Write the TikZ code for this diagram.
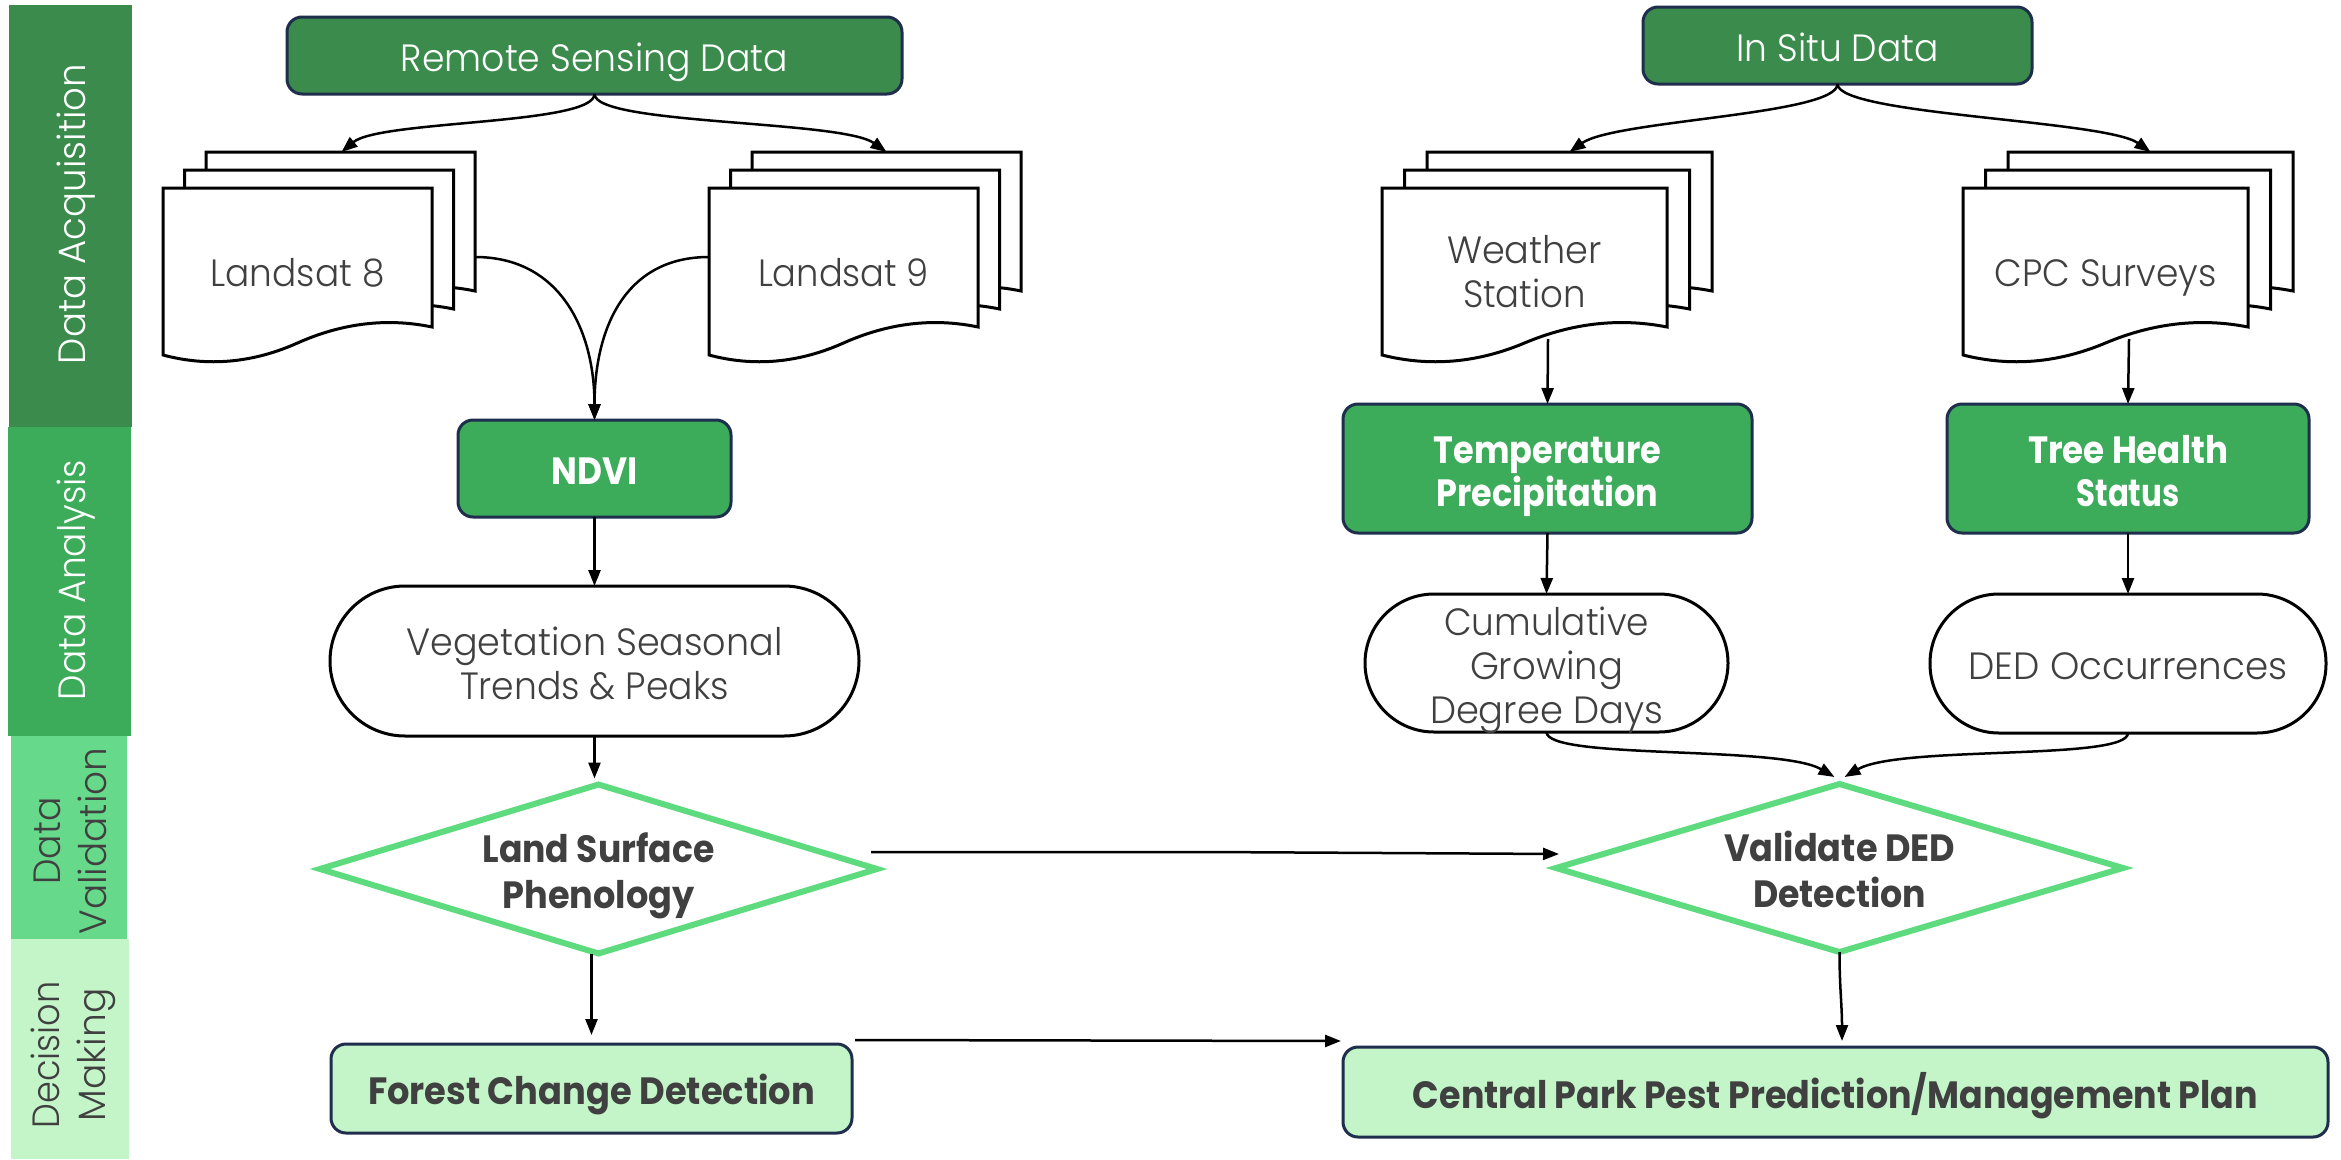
\documentclass[tikz,border=0pt]{standalone}
\usepackage{fontspec}
\setmainfont{Poppins}[UprightFont={* Light}, BoldFont={* Bold}]
\usetikzlibrary{shapes.geometric,arrows.meta,calc}
\definecolor{dkgreen}{HTML}{3B8C4C}
\definecolor{mdgreen}{HTML}{3CAB5A}
\definecolor{ltgreen}{HTML}{66D98A}
\definecolor{vlgreen}{HTML}{C3F5C8}
\definecolor{navy}{HTML}{1F2E4D}
\definecolor{txt}{HTML}{404040}
\definecolor{dstroke}{HTML}{5EDB7E}
% band text: scaled to a width
\newcommand\tw[2]{\resizebox{#1pt}{\height}{#2}}
% node text: scaled to a width, with fixed line height so caps are centred
\newcommand\tx[2]{\rule{0pt}{32pt}\smash{\resizebox{#1pt}{\height}{#2}}}
\newcommand\docpath[3]{%
  \filldraw[docline] (#1,#2) -- ({#1+#3},#2) -- ({#1+#3},{#2+139})
   .. controls ({#1+0.8333*#3},{#2+129.67}) and ({#1+0.6667*#3},{#2+135}) .. ({#1+0.5*#3},{#2+155})
   .. controls ({#1+0.3333*#3},{#2+175}) and ({#1+0.1667*#3},{#2+179}) .. (#1,{#2+167}) -- cycle;}
\newcommand\docstack[4]{%
  \docpath{#1+2*#4}{#2-36}{#3}
  \docpath{#1+#4}{#2-18}{#3}
  \docpath{#1}{#2}{#3}}
\begin{document}
\begin{tikzpicture}[x=1pt,y=-1pt,
  every node/.style={inner sep=0pt, outer sep=0pt, font=\fontsize{38}{44}\selectfont},
  rbox/.style={rectangle, rounded corners=15pt, draw=navy, line width=3pt},
  docline/.style={draw=black, fill=white, line width=3pt},
  doctxt/.style={text=txt, align=center},
  stad/.style={rectangle, draw=black, line width=3pt, fill=white, text=txt, align=center},
  diam/.style={diamond, aspect=3.3, draw=dstroke, line width=6pt, fill=white, text=txt, align=center,
     font=\fontsize{38}{46}\selectfont\bfseries},
  arr/.style={line width=2.5pt, -{Triangle[length=16pt,width=12pt]}},
  band/.style={rotate=90}
]
\useasboundingbox (0,0) rectangle (2341,1159);
\fill[white] (0,0) rectangle (2341,1159);

% lane bands
\fill[dkgreen] (9,5) rectangle (132,427);
\fill[mdgreen] (8,427) rectangle (131,736);
\fill[ltgreen] (11,736) rectangle (127,939);
\fill[vlgreen] (11,939) rectangle (129,1159);
\node[band, anchor=base, text=white] (bacq) at (85,214) {\tw{300}{Data Acquisition}};
\node[band, anchor=base, text=white] (bana) at (85,580) {\tw{240}{Data Analysis}};
\node[band, align=center, text=txt, font=\fontsize{38}{46}\selectfont] (bval) at (70.5,841) {\tw{87}{Data}\\\tw{187}{Validation}};
\node[band, align=center, text=txt, font=\fontsize{38}{46}\selectfont] (bdec) at (73,1055) {\tw{147}{Decision}\\\tw{133}{Making}};

% top sources
\node[rbox, fill=dkgreen, text=white, minimum width=615, minimum height=77] (rs) at (594.5,55.5) {\tx{387}{Remote Sensing Data}};
\node[rbox, fill=dkgreen, text=white, minimum width=389, minimum height=77] (is) at (1837.5,45.5) {\tx{202}{In Situ Data}};

% document stacks
\docstack{163}{188}{269}{21.5}
\docstack{709}{188}{269}{21.5}
\docstack{1382}{188}{285}{22.5}
\docstack{1963}{188}{285}{22.5}
\node[doctxt] (l8) at (297.5,270) {\tx{174}{Landsat 8}};
\node[doctxt] (l9) at (843.5,270) {\tx{171}{Landsat 9}};
\node[doctxt] (ws) at (1524.5,269) {\tx{155}{Weather}\\\tx{123}{Station}};
\node[doctxt] (cpc) at (2105.5,270) {\tx{222}{CPC Surveys}};
\coordinate (l8top) at (341.5,152);
\coordinate (l8right) at (475,257);
\coordinate (l9top) at (886.5,152);
\coordinate (l9left) at (709,257);
\coordinate (wstop) at (1569.5,152);
\coordinate (wsbot) at (1548,339);
\coordinate (cpctop) at (2150.5,152);
\coordinate (cpcbot) at (2129,339);

% analysis boxes
\node[rbox, fill=mdgreen, text=white, font=\fontsize{38}{44}\selectfont\bfseries, minimum width=273, minimum height=97] (ndvi) at (594.5,468.5) {\tx{86}{NDVI}};
\node[rbox, fill=mdgreen, text=white, align=center, font=\fontsize{38}{43}\selectfont\bfseries, minimum width=409, minimum height=129] (temp) at (1547.5,468.5) {\tx{228}{Temperature}\\\tx{222}{Precipitation}};
\node[rbox, fill=mdgreen, text=white, align=center, font=\fontsize{38}{43}\selectfont\bfseries, minimum width=362, minimum height=129] (tree) at (2128,468.5) {\tx{200}{Tree Health}\\\tx{103}{Status}};

\node[stad, rounded corners=75pt, minimum width=529, minimum height=150] (veg) at (594.5,661) {\tx{376}{Vegetation Seasonal}\\\tx{269}{Trends \& Peaks}};
\node[stad, rounded corners=69pt, minimum width=363, minimum height=138] (cgdd) at (1546.5,663) {\tx{205}{Cumulative}\\\tx{153}{Growing}\\\tx{233}{Degree Days}};
\node[stad, rounded corners=69pt, minimum width=396, minimum height=139] (ded) at (2128,663.5) {\tx{319}{DED Occurrences}};

% validation
\node[diam, minimum width=557, minimum height=169] (lsp) at (598.5,869) {\tx{232}{Land Surface}\\\tx{192}{Phenology}};
\node[diam, minimum width=567, minimum height=168] (val) at (1839.5,868) {\tx{231}{Validate DED}\\\tx{173}{Detection}};

% decisions
\node[rbox, fill=vlgreen, text=txt, font=\fontsize{38}{44}\selectfont\bfseries, minimum width=521, minimum height=89] (forest) at (591.5,1088.5) {\tx{447}{Forest Change Detection}};
\node[rbox, fill=vlgreen, text=txt, font=\fontsize{38}{44}\selectfont\bfseries, minimum width=985, minimum height=90] (cppm) at (1835.5,1092) {\tx{845}{Central Park Pest Prediction/Management Plan}};

% connectors
\draw[arr] (rs.south) .. controls +(0,31) and +(38.5,-32) .. (l8top);
\draw[arr] (rs.south) .. controls +(0,31) and +(-45,-32) .. (l9top);
\draw[arr] (is.south) .. controls +(0,31) and +(45,-32) .. (wstop);
\draw[arr] (is.south) .. controls +(0,31) and +(-45,-32) .. (cpctop);
\draw[arr] (l8right) .. controls +(85,0) and +(0,-90) .. (ndvi.north);
\draw[arr] (l9left) .. controls +(-85,0) and +(0,-90) .. (ndvi.north);
\draw[arr] (wsbot) -- (temp.north);
\draw[arr] (cpcbot) -- (tree.north);
\draw[arr] (ndvi.south) -- (veg.north);
\draw[arr] (temp.south) -- (cgdd.north);
\draw[arr] (tree.south) -- (ded.north);
\draw[arr] (veg.south) -- ($(lsp.north)+(-4,-6)$);
\draw[arr] (cgdd.south) .. controls +(0,28) and +(-55,-32) .. ($(val.north)+(-5,-7)$);
\draw[arr] (ded.south) .. controls +(0,28) and +(55,-32) .. ($(val.north)+(5,-7)$);
\draw[arr] ($(lsp.east)+(-6,-17)$) -- (1209,852) -- ($(val.west)+(3,-14)$);
\draw[arr] (lsp.south -| forest.north) -- ($(forest.north)+(0,-9)$);
\draw[arr] (val.south) .. controls +(0,35) and +(0,-35) .. ($(cppm.north)+(6.5,-6)$);
\draw[arr] ($(forest.north east)+(3,-4)$) -- ($(cppm.north west)+(-2,-6)$);
\end{tikzpicture}
\end{document}
